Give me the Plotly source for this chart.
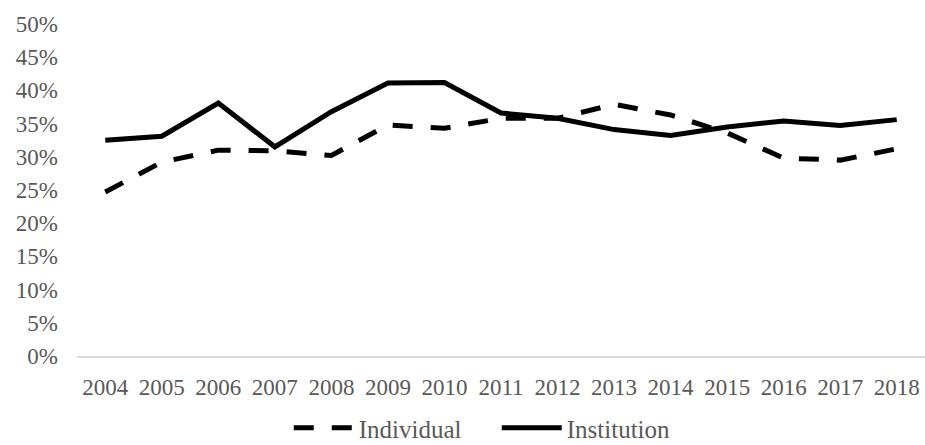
import plotly.graph_objects as go

years = ["2004", "2005", "2006", "2007", "2008", "2009", "2010", "2011",
         "2012", "2013", "2014", "2015", "2016", "2017", "2018"]
individual = [0.247, 0.292, 0.310, 0.309, 0.302, 0.348, 0.343, 0.358,
              0.358, 0.379, 0.363, 0.336, 0.298, 0.295, 0.312]
institution = [0.325, 0.331, 0.381, 0.315, 0.368, 0.411, 0.412, 0.366,
               0.358, 0.341, 0.332, 0.345, 0.354, 0.347, 0.356]

fig = go.Figure()
fig.add_trace(go.Scatter(x=years, y=individual, name="Individual", mode="lines",
                         line=dict(color="black", width=5, dash="20px,18px")))
fig.add_trace(go.Scatter(x=years, y=institution, name="Institution", mode="lines",
                         line=dict(color="black", width=5)))

font = dict(family="Liberation Serif", size=23, color="#595959")
fig.update_layout(
    width=925, height=445,
    margin=dict(l=77, r=0, t=24, b=89, autoexpand=False),
    paper_bgcolor="white", plot_bgcolor="white",
    font=font,
    showlegend=True,
    legend=dict(orientation="h", x=0.495, xanchor="center", y=-0.217, yanchor="middle",
                font=dict(family="Liberation Serif", size=25, color="#595959"),
                itemwidth=60, tracegroupgap=0, entrywidth=133),
    xaxis=dict(type="category", range=[-0.5, 14.5], showgrid=False, automargin=False,
               showline=True, linecolor="#d9d9d9", linewidth=1.5,
               ticks="", ticklabelstandoff=10, tickfont=font),
    yaxis=dict(range=[0, 0.5], dtick=0.05, tickformat=".0%", showgrid=False,
               automargin=False,
               zeroline=False, showline=False, ticks="", ticklabelstandoff=18,
               tickfont=font),
)
fig.write_html("out.html", config={"displayModeBar": False},
               post_script="document.body.style.margin='0px';document.body.style.overflow='hidden';")
